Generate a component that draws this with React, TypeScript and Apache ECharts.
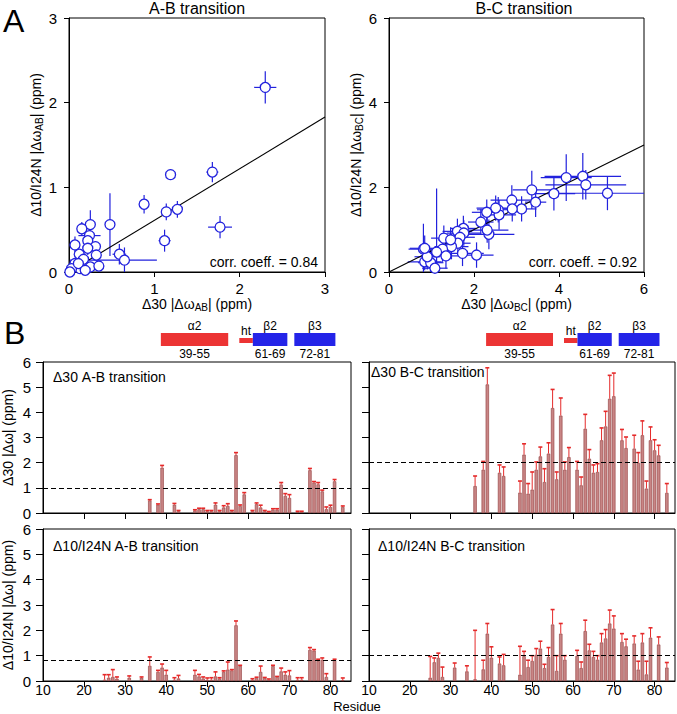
import React, { useEffect, useRef } from "react";
import * as echarts from "echarts";

const FONT = '"Liberation Sans", Arial, Helvetica, sans-serif';
const BLUE = "#2222dd";
const ERR_RED = "#e52a2a";
const BAR_FILL = "#c98585";
const BAR_EDGE = "#9a4a4a";

// ---------- Panel A: A-B transition scatter ----------
const abX = [2.30, 1.68, 1.19, 0.88, 1.14, 1.27, 1.77, 1.12, 0.48, 0.59, 0.65, 0.25, 0.15, 0.24, 0.07, 0.22, 0.31, 0.22, 0.12, 0.32, 0.17, 0.07, 0.13, 0.25, 0.35, 0.03, 0.01, 0.11, 0.19];
const abY = [2.18, 1.18, 1.15, 0.80, 0.71, 0.74, 0.53, 0.37, 0.56, 0.21, 0.14, 0.56, 0.51, 0.43, 0.32, 0.37, 0.30, 0.28, 0.21, 0.20, 0.15, 0.10, 0.04, 0.06, 0.07, 0.04, 0.00, 0.10, 0.02];
// [x minus, x plus, y minus, y plus]
const abErr = [
  [0.13, 0.13, 0.19, 0.19], [0.07, 0.07, 0.12, 0.12], [0.04, 0.04, 0.05, 0.05], [0.03, 0.03, 0.11, 0.11],
  [0.06, 0.06, 0.10, 0.10], [0.06, 0.06, 0.10, 0.10], [0.14, 0.14, 0.13, 0.13], [0.07, 0.07, 0.13, 0.13],
  [0.03, 0.03, 0.37, 0.37], [0.08, 0.08, 0.12, 0.12], [0.64, 0.38, 0.15, 0.15], [0.04, 0.04, 0.17, 0.17],
  [0.05, 0.05, 0.08, 0.08], [0.13, 0.13, 0.06, 0.06], [0.05, 0.05, 0.10, 0.10], [0.05, 0.05, 0.06, 0.06],
  [0.05, 0.05, 0.06, 0.06], [0.06, 0.06, 0.08, 0.08], [0.05, 0.05, 0.05, 0.05], [0.05, 0.05, 0.06, 0.06],
  [0.06, 0.06, 0.08, 0.08], [0.05, 0.05, 0.06, 0.06], [0.05, 0.05, 0.05, 0.05], [0.05, 0.05, 0.05, 0.05],
  [0.05, 0.05, 0.05, 0.05], [0.03, 0.03, 0.04, 0.04], [0.02, 0.02, 0.03, 0.03], [0.05, 0.05, 0.05, 0.05],
  [0.05, 0.05, 0.04, 0.04],
];
const abFit = [[0, 0], [3, 1.83]];
const abCorr = "corr. coeff. = 0.84";

// ---------- Panel A: B-C transition scatter ----------
const bcX = [5.14, 4.56, 4.63, 4.17, 3.88, 3.36, 3.45, 3.12, 2.89, 2.90, 2.57, 2.59, 2.51, 2.30, 2.16, 2.35, 2.31, 1.75, 1.61, 1.76, 1.67, 1.29, 1.62, 1.47, 1.26, 1.73, 2.06, 1.34, 0.81, 1.12, 0.84, 0.98, 1.08, 0.90, 1.45, 0.84];
const bcY = [1.86, 2.26, 2.06, 2.23, 1.85, 1.94, 1.65, 1.49, 1.70, 1.49, 1.47, 1.35, 1.51, 1.41, 1.18, 0.89, 0.99, 1.03, 0.96, 0.92, 0.82, 0.80, 0.68, 0.60, 0.54, 0.44, 0.40, 0.38, 0.54, 0.47, 0.24, 0.22, 0.09, 0.36, 0.76, 0.56];
const bcErr = [
  [1.14, 1.2, 0.4, 0.4], [0.9, 0.9, 0.55, 0.55], [0.95, 0.95, 0.35, 0.35], [0.6, 0.6, 0.55, 0.55],
  [0.5, 0.5, 0.4, 0.4], [0.45, 0.45, 0.45, 0.45], [0.25, 0.25, 0.35, 0.35], [0.35, 0.35, 0.3, 0.3],
  [0.5, 0.5, 0.35, 0.35], [0.3, 0.3, 0.3, 0.3], [0.5, 0.5, 0.3, 0.3], [0.4, 0.4, 0.35, 0.35],
  [0.45, 0.45, 0.3, 0.3], [0.35, 0.35, 0.3, 0.3], [0.3, 0.3, 0.3, 0.3], [0.6, 0.6, 0.35, 0.35],
  [0.5, 0.5, 0.3, 0.3], [0.3, 0.3, 0.3, 0.3], [0.35, 0.35, 0.3, 0.3], [0.4, 0.4, 0.3, 0.3],
  [0.35, 0.35, 0.3, 0.3], [0.3, 0.3, 0.3, 0.3], [0.3, 0.3, 0.25, 0.25], [0.4, 0.4, 0.3, 0.3],
  [0.3, 0.3, 0.3, 0.3], [0.5, 0.5, 0.3, 0.3], [0.4, 0.4, 0.3, 0.3], [0.35, 0.35, 0.3, 0.3],
  [0.35, 0.35, 0.6, 0.6], [0.3, 0.3, 0.4, 1.5], [0.4, 0.4, 0.2, 0.2], [0.3, 0.3, 0.3, 0.3],
  [0.3, 0.3, 0.1, 0.1], [0.3, 0.3, 0.3, 0.3], [0.3, 0.3, 0.3, 0.3], [0.35, 0.35, 0.3, 0.3],
];
const bcFit = [[0, 0], [6, 3.0]];
const bcCorr = "corr. coeff. = 0.92";

// ---------- Panel B: residue bar charts ----------
const d30abRes = [36, 38, 39, 42, 43, 47, 48, 49, 50, 51, 52, 53, 54, 55, 56, 57, 58, 59, 61, 62, 63, 64, 65, 66, 67, 68, 69, 70, 72, 73, 75, 76, 77, 78, 79, 80, 81, 83];
const d30abVal = [0.50, 0.33, 1.80, 0.33, 0.07, 0.10, 0.15, 0.15, 0.07, 0.07, 0.33, 0.07, 0.22, 0.28, 0.07, 2.30, 0.28, 0.74, 0.07, 0.35, 0.22, 0.07, 0.04, 0.13, 0.13, 1.13, 0.68, 0.60, 0.04, 0.04, 1.70, 1.21, 1.14, 0.86, 0.15, 0.24, 1.26, 0.24];
const d30abErr = [0.03, 0.03, 0.09, 0.05, 0.03, 0.03, 0.04, 0.04, 0.03, 0.03, 0.07, 0.03, 0.07, 0.09, 0.03, 0.10, 0.04, 0.07, 0.03, 0.05, 0.09, 0.03, 0.02, 0.04, 0.04, 0.08, 0.09, 0.13, 0.03, 0.03, 0.07, 0.04, 0.07, 0.05, 0.09, 0.07, 0.07, 0.04];

const d30bcRes = [36, 38, 39, 42, 43, 47, 48, 49, 50, 51, 52, 53, 54, 55, 56, 57, 58, 59, 61, 62, 63, 64, 65, 66, 67, 68, 69, 70, 72, 73, 75, 76, 77, 78, 79, 80, 81, 83];
const d30bcVal = [1.07, 1.72, 5.11, 1.60, 1.47, 0.81, 2.32, 0.77, 0.93, 1.72, 2.25, 1.23, 2.36, 4.17, 1.34, 3.87, 1.72, 2.22, 1.72, 1.10, 3.35, 2.16, 1.60, 1.63, 2.89, 3.44, 4.54, 4.64, 2.89, 2.58, 2.56, 1.99, 3.09, 0.97, 2.89, 2.49, 2.29, 0.80];
const d30bcErr = [0.40, 0.33, 0.66, 0.31, 0.36, 0.46, 0.43, 0.40, 0.70, 0.31, 0.37, 0.53, 0.43, 0.74, 0.29, 0.70, 0.31, 0.38, 0.33, 0.33, 0.57, 0.36, 0.31, 0.33, 0.49, 0.60, 0.93, 0.92, 0.43, 0.44, 0.53, 0.41, 0.57, 0.30, 0.53, 0.42, 0.40, 0.37];

const d10abRes = [25, 26, 27, 28, 31, 34, 36, 38, 39, 40, 42, 43, 47, 48, 49, 50, 51, 52, 53, 54, 55, 56, 57, 58, 61, 62, 63, 64, 65, 66, 67, 68, 69, 70, 72, 73, 75, 76, 77, 78, 79, 81, 83];
const d10abVal = [0.05, 0.13, 0.16, 0.09, 0.13, 0.13, 0.60, 0.36, 0.53, 0.25, 0.05, 0.10, 0.25, 0.18, 0.10, 0.05, 0.05, 0.18, 0.10, 0.36, 0.45, 0.42, 2.20, 0.60, 0.05, 0.12, 0.36, 0.12, 0.05, 0.59, 0.16, 0.38, 0.25, 0.22, 0.05, 0.05, 1.23, 1.20, 0.79, 0.84, 0.16, 0.82, 0.03];
const d10abErr = [0.20, 0.12, 0.29, 0.07, 0.07, 0.03, 0.35, 0.06, 0.14, 0.17, 0.08, 0.12, 0.17, 0.08, 0.06, 0.07, 0.08, 0.18, 0.03, 0.04, 0.30, 0.03, 0.17, 0.02, 0.04, 0.03, 0.23, 0.02, 0.03, 0.03, 0.02, 0.13, 0.11, 0.19, 0.08, 0.08, 0.09, 0.04, 0.07, 0.07, 0.13, 0.04, 0.09];

const d10bcRes = [25, 26, 27, 28, 31, 34, 36, 38, 39, 40, 42, 43, 47, 48, 49, 50, 51, 52, 53, 54, 55, 56, 57, 58, 61, 62, 63, 64, 65, 66, 67, 68, 69, 70, 72, 73, 75, 76, 77, 78, 79, 81, 83];
const d10bcVal = [0.13, 0.74, 0.91, 0.16, 0.53, 0.38, 0.07, 0.46, 1.87, 0.92, 0.69, 0.62, 0.25, 0.98, 0.55, 0.79, 1.04, 1.28, 0.51, 0.95, 2.23, 0.40, 1.87, 0.84, 0.99, 0.51, 1.97, 1.21, 0.95, 0.84, 1.52, 1.68, 2.27, 2.07, 1.54, 1.37, 1.48, 0.45, 1.52, 0.26, 1.71, 1.44, 0.53];
const d10bcErr = [0.84, 0.17, 0.19, 0.39, 0.18, 0.22, 1.93, 0.36, 0.40, 0.43, 0.26, 0.43, 1.12, 0.19, 0.27, 0.21, 0.24, 0.29, 0.15, 0.37, 0.59, 0.60, 0.40, 0.16, 0.22, 0.24, 0.43, 0.24, 0.22, 0.16, 0.35, 0.35, 0.53, 0.50, 0.33, 0.28, 0.30, 0.33, 0.35, 0.52, 0.39, 0.30, 0.20];

const thresholds = [1, 2, 0.8, 1];
const residueTickValues = [20, 30, 40, 50, 60, 70, 80];
const residueLabelValues = [10, 20, 30, 40, 50, 60, 70, 80];

// Secondary structure elements drawn above panel B
const ssNames = ["α2", "ht", "β2", "β3"];
const ssStart = [38.7, 57.8, 61.1, 71.2];
const ssEnd = [55.1, 61.1, 69.5, 81.2];
const ssRanges = ["39-55", "", "61-69", "72-81"];
const ssColors = ["#ec3434", "#ec3434", "#2424e8", "#2424e8"];
const ssThin = [false, true, false, false];

const grids = [
  { left: 69, top: 18, width: 256, height: 254 },
  { left: 389, top: 18, width: 255, height: 254 },
  { left: 43, top: 362, width: 308, height: 151 },
  { left: 369, top: 362, width: 306, height: 151 },
  { left: 43, top: 529, width: 308, height: 152 },
  { left: 369, top: 529, width: 306, height: 152 },
];

const richName = {
  n: { fontSize: 14, fontFamily: FONT, color: "#000", lineHeight: 18 },
  s: { fontSize: 10, fontFamily: FONT, color: "#000", verticalAlign: "bottom", lineHeight: 10 },
};

function scatterErrRender(params: any, api: any) {
  const x = api.value(0), y = api.value(1);
  const xm = api.value(2), xp = api.value(3), ym = api.value(4), yp = api.value(5);
  const a = api.coord([x - xm, y]);
  const b = api.coord([x + xp, y]);
  const c = api.coord([x, y - ym]);
  const d = api.coord([x, y + yp]);
  return {
    type: "group",
    children: [
      { type: "line", shape: { x1: a[0], y1: a[1], x2: b[0], y2: b[1] }, style: { stroke: BLUE, lineWidth: 1.2 } },
      { type: "line", shape: { x1: c[0], y1: c[1], x2: d[0], y2: d[1] }, style: { stroke: BLUE, lineWidth: 1.2 } },
    ],
  };
}

function barErrRender(params: any, api: any) {
  const x = api.value(0), v = api.value(1), e = api.value(2);
  const p0 = api.coord([x, v]);
  const p1 = api.coord([x, v + e]);
  return {
    type: "group",
    children: [
      { type: "line", shape: { x1: p0[0], y1: p0[1], x2: p1[0], y2: p1[1] }, style: { stroke: ERR_RED, lineWidth: 1 } },
      { type: "line", shape: { x1: p1[0] - 2, y1: p1[1], x2: p1[0] + 2, y2: p1[1] }, style: { stroke: ERR_RED, lineWidth: 1.6 } },
    ],
  };
}

function scatterSeries(idx: number, xs: number[], ys: number[], errs: number[][], fit: number[][]) {
  return [
    {
      type: "custom", xAxisIndex: idx, yAxisIndex: idx, clip: true, z: 1,
      data: xs.map((x, i) => [x, ys[i], ...errs[i]]),
      encode: { x: 0, y: 1 },
      renderItem: scatterErrRender,
    },
    {
      type: "line", xAxisIndex: idx, yAxisIndex: idx, z: 2, data: fit, symbol: "none",
      lineStyle: { color: "#000", width: 1.1 },
    },
    {
      type: "scatter", xAxisIndex: idx, yAxisIndex: idx, z: 3, symbol: "circle", symbolSize: 10,
      data: xs.map((x, i) => [x, ys[i]]),
      itemStyle: { color: "#fff", borderColor: BLUE, borderWidth: 1.3, opacity: 1 },
    },
  ];
}

function barSeries(idx: number, res: number[], val: number[], err: number[], thr: number) {
  return [
    {
      type: "bar", xAxisIndex: idx, yAxisIndex: idx, z: 2, barWidth: 3.4,
      data: res.map((r, i) => [r, val[i]]),
      itemStyle: { color: BAR_FILL, borderColor: BAR_EDGE, borderWidth: 0.7 },
      markLine: {
        silent: true, symbol: "none", label: { show: false },
        lineStyle: { color: "#000", type: [5, 3], width: 1 },
        data: [{ yAxis: thr }],
      },
    },
    {
      type: "custom", xAxisIndex: idx, yAxisIndex: idx, z: 3,
      data: res.map((r, i) => [r, val[i], err[i]]),
      encode: { x: 0, y: 1 },
      renderItem: barErrRender,
    },
  ];
}

const axisCommon = {
  type: "value",
  splitLine: { show: false },
  axisLine: { show: true, lineStyle: { color: "#000", width: 1 } },
};

function scatterX(idx: number, max: number, interval: number, sub: string) {
  return {
    ...axisCommon, gridIndex: idx, min: 0, max, interval,
    axisTick: { show: true, inside: false, length: 5, lineStyle: { color: "#000" } },
    axisLabel: { fontSize: 15, color: "#000", fontFamily: FONT, margin: 9 },
    name: `{n|Δ30 |Δω}{s|${sub}}{n|| (ppm)}`,
    nameLocation: "middle", nameGap: 20,
    nameTextStyle: { rich: richName },
  };
}

function scatterY(idx: number, max: number, interval: number, sub: string, gap: number) {
  return {
    ...axisCommon, gridIndex: idx, min: 0, max, interval,
    axisTick: { show: true, inside: false, length: 5, lineStyle: { color: "#000" } },
    axisLabel: { fontSize: 15, color: "#000", fontFamily: FONT, margin: 12 },
    name: `{n|Δ10/I24N |Δω}{s|${sub}}{n|| (ppm)}`,
    nameLocation: "middle", nameGap: gap, nameRotate: 90,
    nameTextStyle: { rich: richName },
  };
}

function barX(idx: number, labels: boolean) {
  return {
    ...axisCommon, gridIndex: idx, min: 10, max: 85, interval: 10,
    axisTick: { show: true, inside: false, length: 6, lineStyle: { color: "#000" }, customValues: residueTickValues },
    axisLabel: labels
      ? { show: true, fontSize: 14, lineHeight: 14, color: "#000", fontFamily: FONT, margin: 2, customValues: residueLabelValues }
      : { show: false },
  };
}

function barY(idx: number, labels: boolean, name?: string) {
  return {
    ...axisCommon, gridIndex: idx, min: 0, max: 6, interval: 1,
    axisTick: { show: true, inside: false, length: 7, lineStyle: { color: "#000" } },
    axisLabel: labels ? { show: true, fontSize: 15, color: "#000", fontFamily: FONT, margin: 12 } : { show: false },
    name: name || "",
    nameLocation: "middle", nameGap: 28, nameRotate: 90,
    nameTextStyle: { fontSize: 14, fontFamily: FONT, color: "#000" },
  };
}

function txt(x: number, y: number, text: string, size: number, align = "left", vAlign = "middle", lineHeight?: number) {
  const style: any = { text, fontSize: size, fontFamily: FONT, fill: "#000", align, verticalAlign: vAlign, textAlign: align, textVerticalAlign: vAlign };
  if (lineHeight) style.lineHeight = lineHeight;
  return { type: "text", x, y, z: 20, silent: true, style };
}

export default function App() {
  const ref = useRef<HTMLDivElement>(null);
  useEffect(() => {
    if (!ref.current) return;
    const chart = echarts.init(ref.current, null, { renderer: "svg" });
    const option: any = {
      animation: false,
      backgroundColor: "#fff",
      grid: grids.map((g) => ({ ...g, show: true, borderColor: "#000", borderWidth: 1, backgroundColor: "transparent", containLabel: false })),
      xAxis: [
        scatterX(0, 3, 1, "AB"),
        scatterX(1, 6, 2, "BC"),
        barX(2, false),
        barX(3, false),
        barX(4, true),
        barX(5, true),
      ],
      yAxis: [
        scatterY(0, 3, 1, "AB", 24),
        scatterY(1, 6, 2, "BC", 11),
        barY(2, true, "Δ30 |Δω| (ppm)"),
        barY(3, false),
        barY(4, true, "Δ10/I24N |Δω| (ppm)"),
        barY(5, false),
      ],
      series: [
        ...scatterSeries(0, abX, abY, abErr, abFit),
        ...scatterSeries(1, bcX, bcY, bcErr, bcFit),
        ...barSeries(2, d30abRes, d30abVal, d30abErr, thresholds[0]),
        ...barSeries(3, d30bcRes, d30bcVal, d30bcErr, thresholds[1]),
        ...barSeries(4, d10abRes, d10abVal, d10abErr, thresholds[2]),
        ...barSeries(5, d10bcRes, d10bcVal, d10bcErr, thresholds[3]),
      ],
    };
    chart.setOption(option);

    const graphics: any[] = [
      txt(3, 21, "A", 32, "left", "middle"),
      txt(4, 333, "B", 32, "left", "middle"),
      txt(197, 8, "A-B transition", 16, "center"),
      txt(524, 8, "B-C transition", 16, "center"),
      txt(318, 262, abCorr, 14, "right"),
      txt(637, 262, bcCorr, 14, "right"),
      txt(53, 377, "Δ30 A-B transition", 14, "left"),
      txt(371, 372, "Δ30 B-C transition", 14, "left"),
      txt(53, 546, "Δ10/I24N A-B transition", 14, "left"),
      txt(378, 546, "Δ10/I24N B-C transition", 14, "left"),
      txt(357, 706.5, "Residue", 13, "center", "middle", 13),
    ];

    [2, 3].forEach((axisIdx) => {
      ssNames.forEach((name, i) => {
        const x0 = chart.convertToPixel({ xAxisIndex: axisIdx } as any, ssStart[i]) as unknown as number;
        const x1 = chart.convertToPixel({ xAxisIndex: axisIdx } as any, ssEnd[i]) as unknown as number;
        const top = ssThin[i] ? 338 : 333;
        const h = ssThin[i] ? 5 : 13;
        graphics.push({
          type: "rect", z: 20, silent: true,
          shape: { x: x0, y: top, width: x1 - x0, height: h },
          style: { fill: ssColors[i] },
        });
        graphics.push(txt((x0 + x1) / 2, top - 1, name, 12, "center", "bottom"));
        if (ssRanges[i]) graphics.push(txt((x0 + x1) / 2, 348, ssRanges[i], 12, "center", "top"));
      });
    });

    chart.setOption({ graphic: graphics });
    return () => chart.dispose();
  }, []);

  return (
    <div
      ref={ref}
      style={{ position: "absolute", left: 0, top: 0, width: 677, height: 714, background: "#fff" }}
    />
  );
}
